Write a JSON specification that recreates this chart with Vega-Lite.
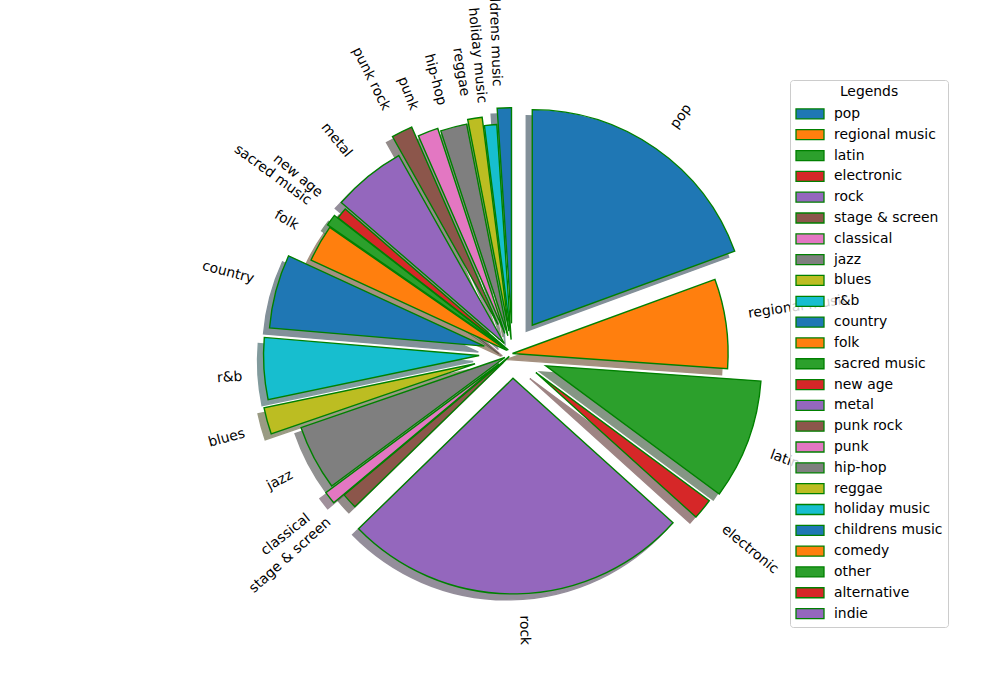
{
  "$schema": "https://vega.github.io/schema/vega-lite/v6.json",
  "autosize": {"type": "none"},
  "padding": {"left": 243, "top": 84, "right": 218, "bottom": 77},
  "width": 539,
  "height": 539,
  "background": "white",
  "config": {"view": {"stroke": null}},
  "data": {
    "values": [
      {"genre": "pop", "value": 19.4, "explode": 0.16},
      {"genre": "regional music", "value": 6.7, "explode": 0.0},
      {"genre": "latin", "value": 9.0, "explode": 0.165},
      {"genre": "electronic", "value": 1.55, "explode": 0.14},
      {"genre": "rock", "value": 26.0, "explode": 0.115},
      {"genre": "stage & screen", "value": 1.19, "explode": 0.02},
      {"genre": "classical", "value": 0.94, "explode": 0.08},
      {"genre": "jazz", "value": 4.89, "explode": 0.04},
      {"genre": "blues", "value": 1.99, "explode": 0.18},
      {"genre": "r&b", "value": 4.61, "explode": 0.155},
      {"genre": "country", "value": 5.53, "explode": 0.135},
      {"genre": "folk", "value": 2.78, "explode": 0.03},
      {"genre": "sacred music", "value": 0.86, "explode": 0.045},
      {"genre": "new age", "value": 0.83, "explode": 0.025},
      {"genre": "metal", "value": 5.5, "explode": 0.06},
      {"genre": "punk rock", "value": 1.58, "explode": 0.15},
      {"genre": "punk", "value": 1.53, "explode": 0.1},
      {"genre": "hip-hop", "value": 1.97, "explode": 0.085},
      {"genre": "reggae", "value": 1.08, "explode": 0.105},
      {"genre": "holiday music", "value": 0.92, "explode": 0.065},
      {"genre": "childrens music", "value": 1.06, "explode": 0.14},
      {"genre": "comedy", "value": 0, "explode": 0},
      {"genre": "other", "value": 0, "explode": 0},
      {"genre": "alternative", "value": 0, "explode": 0},
      {"genre": "indie", "value": 0, "explode": 0}
    ]
  },
  "transform": [
    {"window": [{"op": "sum", "field": "value", "as": "cum"}], "frame": [null, 0]},
    {"joinaggregate": [{"op": "sum", "field": "value", "as": "total"}]},
    {"calculate": "2*PI*(datum.cum - datum.value)/datum.total", "as": "a0"},
    {"calculate": "2*PI*datum.cum/datum.total", "as": "a1"},
    {"calculate": "(datum.a0 + datum.a1)/2", "as": "mid"},
    {"calculate": "datum.explode*sin(datum.mid)", "as": "ex"},
    {"calculate": "datum.explode*cos(datum.mid)", "as": "ey"},
    {"calculate": "(datum.explode+1.1)*sin(datum.mid)", "as": "lx"},
    {"calculate": "(datum.explode+1.1)*cos(datum.mid)", "as": "ly"},
    {"calculate": "datum.lx > 0 ? datum.mid*180/PI - 90 : datum.mid*180/PI - 270", "as": "rot"},
    {"calculate": "8.6*length(datum.genre) - 4.74*(length(datum.genre) - length(replace(datum.genre, regexp('[ijl]','g'), ''))) - 3.2*(length(datum.genre) - length(replace(datum.genre, regexp('[frt]','g'), ''))) - 1.2*(length(datum.genre) - length(replace(datum.genre, regexp('[csz]','g'), ''))) - 4.1*(length(datum.genre) - length(replace(datum.genre, regexp('[ -]','g'), ''))) + 4.9*(length(datum.genre) - length(replace(datum.genre, regexp('m','g'), ''))) + 2.8*(length(datum.genre) - length(replace(datum.genre, regexp('w','g'), ''))) + 2.2*(length(datum.genre) - length(replace(datum.genre, regexp('&','g'), ''))) - 0.5*(length(datum.genre) - length(replace(datum.genre, regexp('[kvy]','g'), '')))", "as": "tw"},
    {"calculate": "datum.tw*abs(cos(datum.rot*PI/180)) + 13.45*abs(sin(datum.rot*PI/180))", "as": "bw"},
    {"calculate": "datum.tw*abs(sin(datum.rot*PI/180)) + 13.45*abs(cos(datum.rot*PI/180))", "as": "bh"},
    {"calculate": "datum.lx + (datum.lx > 0 ? 1 : -1)*datum.bw/2/215.6", "as": "cx"},
    {"calculate": "datum.ly + (datum.ly > 0 ? 1 : -1)*datum.bh/2/215.6", "as": "cy"}
  ],
  "layer": [
    {
      "transform": [{"filter": "datum.value > 0"}],
      "mark": {"type": "arc", "radius": 215.6, "xOffset": -6, "yOffset": 6, "opacity": 0.5, "strokeWidth": 1.4},
      "encoding": {
        "x": {"field": "ex", "type": "quantitative", "scale": {"domain": [-1.25, 1.25], "nice": false, "zero": false}, "axis": null},
        "y": {"field": "ey", "type": "quantitative", "scale": {"domain": [-1.25, 1.25], "nice": false, "zero": false}, "axis": null},
        "theta": {"field": "a0", "type": "quantitative", "scale": null, "stack": null},
        "theta2": {"field": "a1"},
        "fill": {"field": "genre", "type": "nominal", "legend": null,
          "scale": {"domain": ["pop","regional music","latin","electronic","rock","stage & screen","classical","jazz","blues","r&b","country","folk","sacred music","new age","metal","punk rock","punk","hip-hop","reggae","holiday music","childrens music","comedy","other","alternative","indie"],
            "range": ["#092436","#4d2604","#0d300d","#400c0c","#2c1f39","#2a1a17","#44243a","#262626","#38390a","#07393e","#092436","#4d2604","#0d300d","#400c0c","#2c1f39","#2a1a17","#44243a","#262626","#38390a","#07393e","#092436","#4d2604","#0d300d","#400c0c","#2c1f39"]}},
        "stroke": {"field": "genre", "type": "nominal", "legend": null,
          "scale": {"domain": ["pop","regional music","latin","electronic","rock","stage & screen","classical","jazz","blues","r&b","country","folk","sacred music","new age","metal","punk rock","punk","hip-hop","reggae","holiday music","childrens music","comedy","other","alternative","indie"],
            "range": ["#092436","#4d2604","#0d300d","#400c0c","#2c1f39","#2a1a17","#44243a","#262626","#38390a","#07393e","#092436","#4d2604","#0d300d","#400c0c","#2c1f39","#2a1a17","#44243a","#262626","#38390a","#07393e","#092436","#4d2604","#0d300d","#400c0c","#2c1f39"]}}
      }
    },
    {
      "transform": [{"filter": "datum.value > 0"}],
      "mark": {"type": "arc", "radius": 215.6, "stroke": "green", "strokeWidth": 1.4, "opacity": 1},
      "encoding": {
        "x": {"field": "ex", "type": "quantitative", "axis": null},
        "y": {"field": "ey", "type": "quantitative", "axis": null},
        "theta": {"field": "a0", "type": "quantitative", "scale": null, "stack": null},
        "theta2": {"field": "a1"},
        "color": {"field": "genre", "type": "nominal",
          "scale": {"domain": ["pop","regional music","latin","electronic","rock","stage & screen","classical","jazz","blues","r&b","country","folk","sacred music","new age","metal","punk rock","punk","hip-hop","reggae","holiday music","childrens music","comedy","other","alternative","indie"],
            "range": ["#1f77b4","#ff7f0e","#2ca02c","#d62728","#9467bd","#8c564b","#e377c2","#7f7f7f","#bcbd22","#17becf","#1f77b4","#ff7f0e","#2ca02c","#d62728","#9467bd","#8c564b","#e377c2","#7f7f7f","#bcbd22","#17becf","#1f77b4","#ff7f0e","#2ca02c","#d62728","#9467bd"]},
          "legend": {
            "title": "Legends", "orient": "none", "legendX": 547, "legendY": -4,
            "titleAnchor": "middle", "titleFont": "DejaVu Sans", "titleFontSize": 13.9, "titleFontWeight": "normal", "titleColor": "black", "titlePadding": 4,
            "labelFont": "DejaVu Sans", "labelFontSize": 13.9, "labelColor": "black", "labelOffset": 13, "labelLimit": 200,
            "symbolType": "M-1.4,-0.5L1.4,-0.5L1.4,0.5L-1.4,0.5Z", "symbolSize": 400, "symbolStrokeColor": "green", "symbolStrokeWidth": 1.3, "symbolOpacity": 1, "symbolOffset": 4,
            "rowPadding": 1.82, "padding": 5, "strokeColor": "#cccccc", "fillColor": "rgba(255,255,255,0.8)", "cornerRadius": 3
          }
        }
      }
    },
    {
      "transform": [{"filter": "datum.value > 0"}],
      "mark": {"type": "text", "align": "center", "baseline": "middle", "font": "DejaVu Sans", "fontSize": 13.9, "color": "black"},
      "encoding": {
        "x": {"field": "cx", "type": "quantitative", "axis": null},
        "y": {"field": "cy", "type": "quantitative", "axis": null},
        "text": {"field": "genre"},
        "angle": {"field": "rot", "type": "quantitative", "scale": null}
      }
    }
  ],
  "resolve": {"scale": {"fill": "independent", "stroke": "independent", "color": "independent"}}
}
